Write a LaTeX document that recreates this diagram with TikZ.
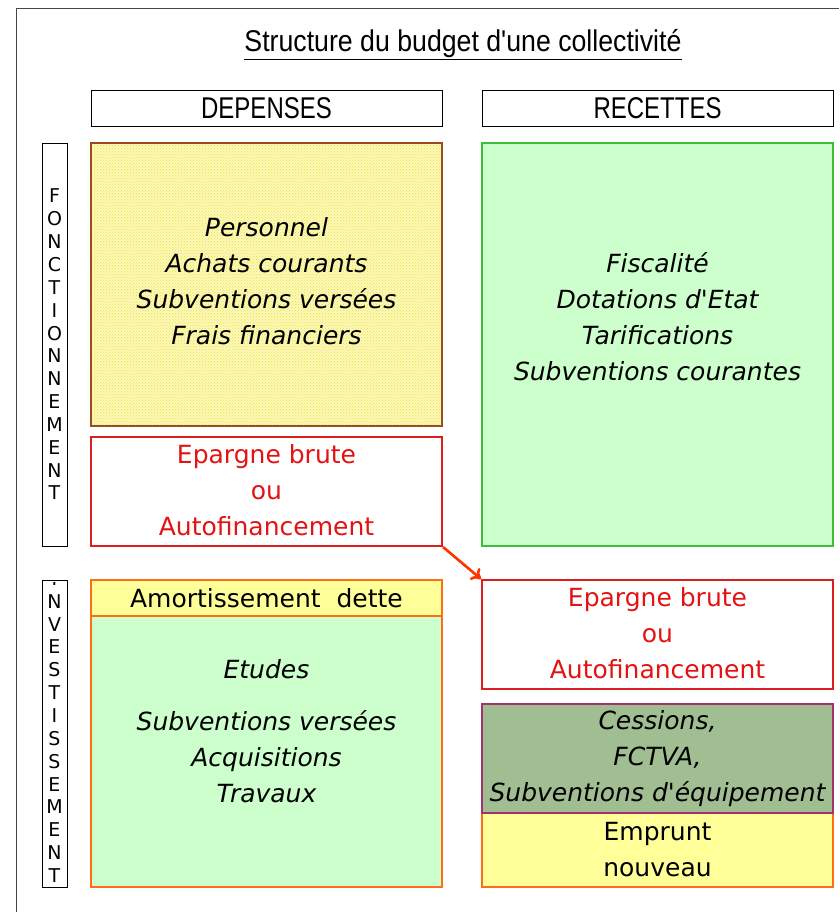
\documentclass[tikz,border=0pt]{standalone}
\usepackage{fontspec}
\setmainfont{DejaVu Sans}[Ligatures=TeXOff]
\newfontfamily\hdrfont{Liberation Sans}[FakeStretch=0.8,Ligatures=TeXOff]
\newfontfamily\titfont{Liberation Sans}[FakeStretch=0.89,Ligatures=TeXOff]
\usetikzlibrary{arrows.meta,patterns}
\definecolor{brownb}{RGB}{155,75,30}
\definecolor{redb}{RGB}{222,30,30}
\definecolor{redt}{RGB}{228,18,18}
\definecolor{greenb}{RGB}{60,190,60}
\definecolor{greenf}{RGB}{204,255,204}
\definecolor{orangeb}{RGB}{255,110,20}
\definecolor{yellowf}{RGB}{255,255,153}
\definecolor{olivef}{RGB}{160,190,145}
\definecolor{purpleb}{RGB}{160,50,110}
\definecolor{arrowc}{RGB}{255,51,0}
\definecolor{yelbg}{RGB}{252,248,190}
\definecolor{yeldot}{RGB}{238,228,40}
\definecolor{framec}{RGB}{70,70,70}
\begin{document}
\begin{tikzpicture}[x=1pt,y=-1pt,
  thinbox/.style={draw=black, line width=0.9pt, fill=white, inner sep=0pt},
  cbox/.style={line width=2pt, inner sep=0pt, minimum width=351pt},
  hdr/.style={font=\hdrfont\fontsize{30}{32}\selectfont},
  body/.style={font=\fontsize{25}{36}\selectfont, align=center, inner sep=0pt},
  ibody/.style={body, font=\fontsize{25}{36}\selectfont\itshape},
  vlet/.style={font=\fontsize{19}{22.85}\selectfont, align=center, inner sep=0pt},
  arrowst/.style={draw=arrowc, line width=2.6pt, -{To[length=9pt,width=15pt,line width=2.6pt]}}
]
\useasboundingbox (0,0) rectangle (839,912);
% outer frame
\coordinate (fbl) at (16.5,912);
\coordinate (ftl) at (16.5,8.5);
\coordinate (ftr) at (839,8.5);
\draw[framec, line width=1.6pt] (fbl) -- (ftl) -- (ftr);

% title
\node[font=\titfont\fontsize{30}{32}\selectfont] (title) at (463,45) {\underline{Structure du budget d'une collectivité}};

% headers
\node[thinbox, minimum width=351pt, minimum height=36pt] (hdrL) at (266.5,108) {};
\node[hdr] (hdrLt) at (266.5,108) {DEPENSES};
\node[thinbox, minimum width=351pt, minimum height=36pt] (hdrR) at (657.5,108) {};
\node[hdr] (hdrRt) at (657.5,108) {RECETTES};

% vertical labels
\node[thinbox, minimum width=25pt, minimum height=403pt] (fonc) at (54.5,344.5) {};
\node[vlet] (fonct) at (54.5,344.5) {F\\O\\N\\C\\T\\I\\O\\N\\N\\E\\M\\E\\N\\T};
\node[thinbox, minimum width=25pt, minimum height=307pt] (inv) at (54.5,733.5) {};
\begin{scope}
  \clip (42.5,582) rectangle (66.5,887);
  \node[vlet] (invt) at (54.5,727) {I\\N\\V\\E\\S\\T\\I\\S\\S\\E\\M\\E\\N\\T};
\end{scope}

% fonctionnement depenses
\node[cbox, draw=brownb, minimum height=283pt, preaction={fill=yelbg}, pattern=crosshatch dots, pattern color=yeldot] (perso) at (266.5,284.5) {};
\node[ibody] (persot) at (266.5,281) {Personnel\\Achats courants\\Subventions versées\\Frais financiers};
\node[cbox, draw=redb, fill=white, minimum height=109pt] (epL) at (266.5,491.5) {};
\node[body, text=redt] (epLt) at (266.5,490.5) {Epargne brute\\ou\\Autofinancement};

% fonctionnement recettes
\node[cbox, draw=greenb, fill=greenf, minimum height=403pt] (fisc) at (657.5,344.5) {};
\node[ibody] (fisct) at (657.5,317) {Fiscalité\\Dotations d'Etat\\Tarifications\\Subventions courantes};

% investissement depenses
\node[cbox, draw=orangeb, fill=greenf, minimum height=271pt] (etud) at (266.5,751.5) {};
\node[ibody] (etudt) at (266.5,731.5) {Etudes\\[16pt]Subventions versées\\Acquisitions\\Travaux};
\node[cbox, draw=orangeb, fill=yellowf, minimum height=36pt] (amort) at (266.5,598) {};
\node[body] (amortt) at (266.5,598) {Amortissement\ \ dette};

% investissement recettes
\node[cbox, draw=redb, fill=white, minimum height=109pt] (epR) at (657.5,634.5) {};
\node[body, text=redt] (epRt) at (657.5,633.5) {Epargne brute\\ou\\Autofinancement};
\node[cbox, draw=orangeb, fill=yellowf, minimum height=74pt] (empr) at (657.5,850) {};
\node[body] (emprt) at (657.5,849.5) {Emprunt\\nouveau};
\node[cbox, draw=purpleb, fill=olivef, minimum height=109pt] (cess) at (657.5,758.5) {};
\node[ibody] (cesst) at (657.5,759) {Cessions,\\FCTVA,\\Subventions d'équipement};

% arrow
\draw[arrowst] (epL.south east) -- (epR.north west);
\end{tikzpicture}
\end{document}
